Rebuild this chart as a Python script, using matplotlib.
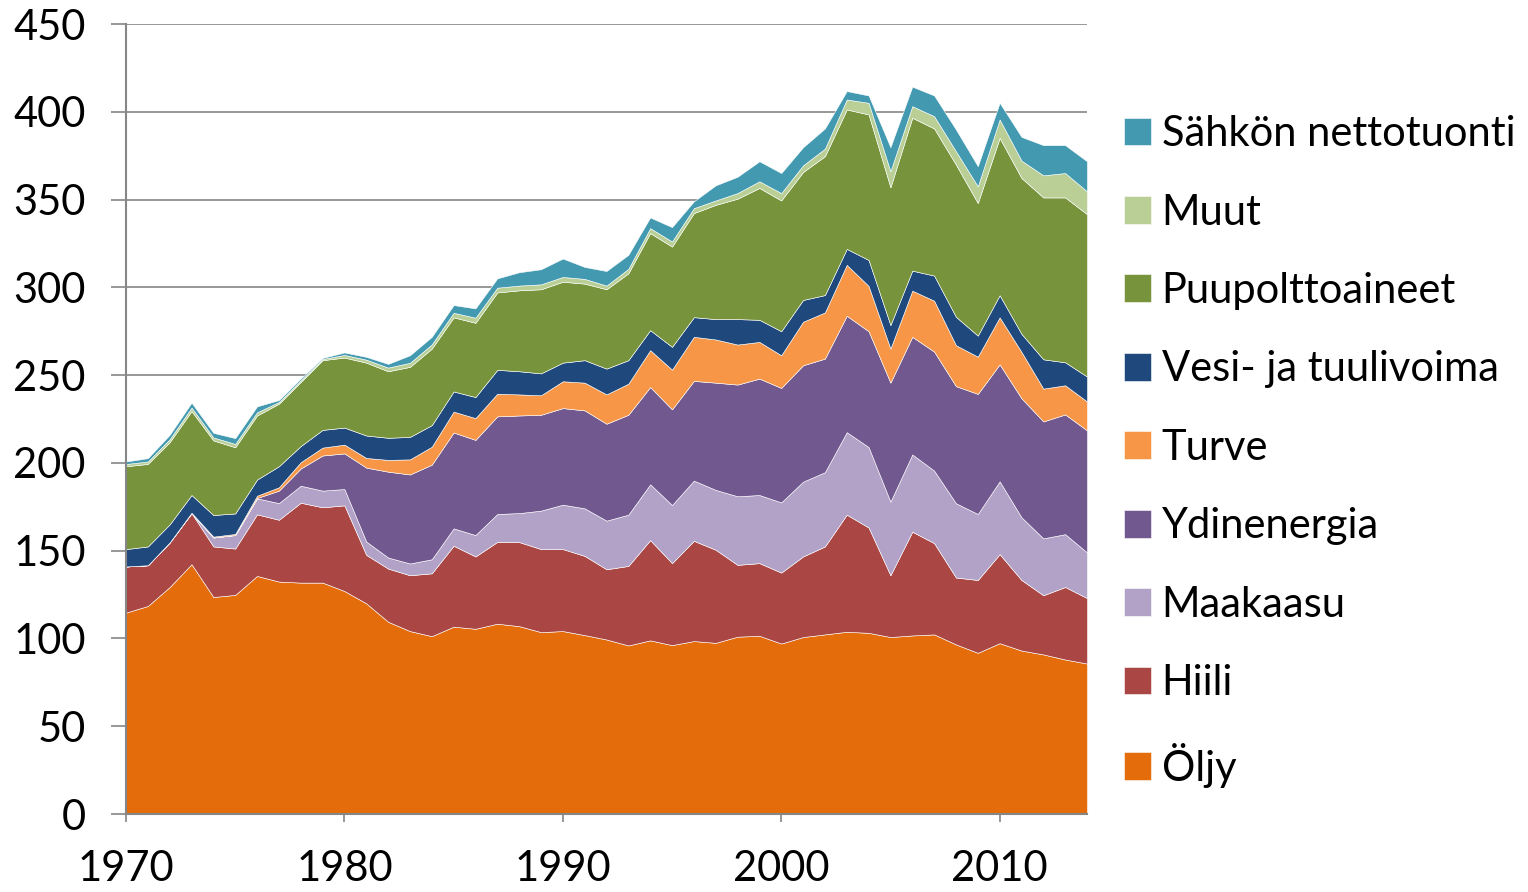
import numpy as np
import matplotlib
matplotlib.use("Agg")
import matplotlib.pyplot as plt

plt.rcParams['font.family'] = ['Lato', 'DejaVu Sans']

years = np.arange(1970, 2015)

# energy sources, bottom to top
oljy = [114.7, 118.5, 129.3, 142.3, 123.6, 124.8, 135.6, 132.4, 131.8, 131.8,
        127.0, 120.0, 109.5, 104.2, 101.3, 106.7, 105.5, 108.4, 107.0, 103.6,
        104.2, 101.9, 99.4, 96.0, 98.9, 96.2, 98.5, 97.5, 101.0, 101.5,
        97.1, 100.8, 102.3, 103.8, 103.2, 100.8, 101.7, 102.3, 96.6, 91.8,
        97.3, 93.1, 90.9, 88.0, 85.7]
hiili = [26.3, 23.2, 25.4, 29.1, 28.8, 26.4, 35.1, 35.2, 45.5, 42.9,
         48.8, 27.6, 30.3, 31.8, 35.8, 46.1, 41.2, 46.6, 47.9, 47.3,
         46.7, 45.1, 40.0, 45.3, 57.1, 46.7, 57.1, 53.0, 40.9, 41.4,
         40.4, 45.9, 50.1, 66.7, 60.0, 35.2, 59.1, 52.0, 38.1, 41.5,
         50.7, 40.2, 33.7, 41.3, 37.3]
maakaasu = [0, 0, 0, 0, 5.1, 7.7, 9.1, 9.5, 9.7, 9.5,
            9.3, 7.6, 6.3, 6.7, 8.0, 9.9, 12.2, 15.9, 16.5, 21.9,
            25.3, 27.1, 27.7, 29.2, 31.8, 33.1, 34.3, 34.1, 39.1, 38.8,
            40.0, 42.6, 42.3, 47.0, 45.8, 41.9, 44.0, 41.3, 42.3, 37.6,
            41.5, 35.7, 32.4, 30.1, 26.0]
ydinenergia = [0, 0, 0, 0, 0, 0, 0.2, 7.1, 9.8, 20.0,
               20.3, 42.1, 48.9, 50.7, 53.9, 54.6, 54.2, 55.6, 55.6, 54.6,
               55.0, 55.8, 55.2, 56.9, 55.4, 54.5, 56.8, 61.1, 63.6, 66.3,
               65.2, 66.3, 64.7, 66.3, 66.0, 67.8, 67.0, 67.8, 66.7, 68.4,
               66.6, 67.8, 66.6, 68.2, 69.5]
turve = [0, 0, 0, 0.2, 0.5, 0.6, 1.3, 1.9, 3.6, 4.5,
         5.0, 5.5, 6.7, 8.6, 10.2, 11.9, 12.4, 12.9, 12.0, 11.1,
         15.3, 15.8, 16.7, 17.7, 21.0, 22.6, 25.1, 24.6, 22.8, 20.9,
         18.6, 24.8, 26.3, 29.0, 25.8, 19.4, 26.3, 29.0, 23.3, 21.2,
         26.8, 26.4, 18.7, 16.6, 16.5]
vesi_tuuli = [9.9, 10.7, 10.3, 10.1, 12.3, 11.7, 9.2, 12.0, 9.2, 10.1,
              9.7, 12.8, 12.6, 12.8, 12.3, 11.5, 12.0, 13.6, 13.2, 12.5,
              10.6, 12.8, 14.7, 13.4, 11.4, 13.0, 11.2, 11.6, 14.5, 12.6,
              13.7, 12.4, 9.9, 9.1, 14.8, 13.4, 11.4, 14.3, 16.2, 12.0,
              12.6, 10.3, 16.7, 13.1, 14.2]
puu = [47.2, 47.0, 46.8, 47.8, 42.5, 37.7, 36.5, 35.6, 36.5, 39.7,
       39.9, 41.5, 37.9, 39.9, 43.6, 42.2, 42.3, 44.1, 46.1, 47.9,
       46.1, 43.6, 45.2, 49.5, 55.3, 57.1, 59.3, 65.1, 68.6, 75.1,
       74.5, 72.9, 79.1, 79.4, 82.9, 78.5, 87.1, 83.8, 86.7, 75.5,
       89.6, 88.8, 92.2, 93.9, 92.5]
muut = [1.3, 1.4, 1.7, 2.0, 1.7, 1.9, 1.8, 1.0, 0.9, 0.7,
        1.5, 1.7, 2.1, 2.3, 2.4, 2.6, 2.9, 2.7, 2.7, 2.8,
        2.7, 2.7, 2.1, 2.5, 2.8, 2.9, 2.8, 2.5, 3.2, 3.8,
        4.2, 3.8, 4.3, 5.7, 6.6, 9.1, 6.6, 7.0, 7.6, 9.5,
        10.5, 9.9, 12.6, 13.9, 13.0]
tuonti = [1.4, 1.9, 2.5, 2.8, 2.6, 3.3, 3.4, 1.1, 1.0, 0.6,
          1.4, 1.6, 2.1, 4.3, 4.3, 4.4, 5.3, 5.3, 7.6, 8.6,
          10.5, 6.8, 8.3, 8.0, 6.1, 8.2, 3.9, 8.6, 9.3, 11.4,
          11.4, 10.3, 11.5, 4.8, 4.2, 13.7, 11.1, 11.8, 12.4, 11.5,
          9.5, 13.5, 17.2, 15.9, 17.1]

labels = ['Öljy', 'Hiili', 'Maakaasu', 'Ydinenergia', 'Turve',
          'Vesi- ja tuulivoima', 'Puupolttoaineet', 'Muut', 'Sähkön nettotuonti']
colors = ['#E46C0A', '#AA4643', '#B3A2C7', '#71588F', '#F79646',
          '#1F497D', '#77933C', '#B9CF96', '#439AB0']

fig = plt.figure(figsize=(15.28, 8.92), dpi=100)
ax = fig.add_axes([126/1528, 78/892, 961/1528, 790/892])

ax.stackplot(years, oljy, hiili, maakaasu, ydinenergia, turve,
             vesi_tuuli, puu, muut, tuonti,
             colors=colors, labels=labels,
             edgecolor='white', linewidth=0.4, zorder=2)

ax.set_xlim(1970, 2014)
ax.set_ylim(0, 450)
ax.set_yticks(np.arange(0, 451, 50))
ax.set_xticks([1970, 1980, 1990, 2000, 2010])
ax.yaxis.grid(True, color='#868686', linewidth=1.2, zorder=0)
ax.set_axisbelow(True)

for s in ['top', 'right']:
    ax.spines[s].set_visible(False)
for s in ['left', 'bottom']:
    ax.spines[s].set_color('#868686')
    ax.spines[s].set_linewidth(1.5)
    ax.spines[s].set_zorder(5)

ax.tick_params(axis='y', direction='out', length=11, width=1.2, color='#868686',
               pad=18, labelsize=30)
ax.tick_params(axis='x', direction='out', length=6, width=1.2, color='#868686',
               pad=20, labelsize=30)

handles, labs = ax.get_legend_handles_labels()
fig.legend(handles[::-1], labs[::-1], loc='center left',
           bbox_to_anchor=(1124/1528, 0.494), frameon=False, fontsize=30,
           handlelength=0.65, handleheight=0.65, handletextpad=0.25,
           labelspacing=0.97, borderaxespad=0, borderpad=0)

fig.savefig('out.png', dpi=100)
